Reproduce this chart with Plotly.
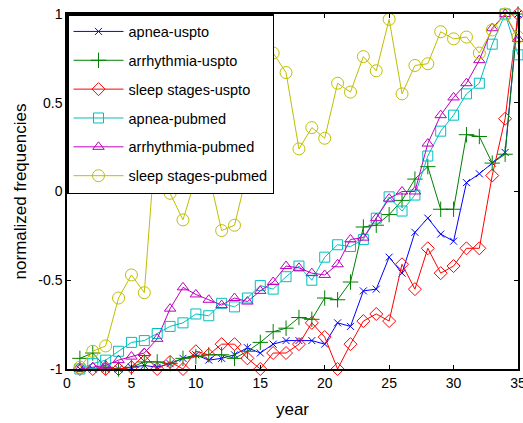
import plotly.graph_objects as go

years = list(range(1, 36))

apnea_uspto = [-1.0, -1.0, -1.0, -1.0, -0.99, -0.98, -0.99, -0.97, -0.94, -0.92,
               -0.95, -0.94, -0.92, -0.88, -0.91, -0.86, -0.84, -0.84, -0.84, -0.86,
               -0.74, -0.76, -0.56, -0.55, -0.37, -0.46, -0.23, -0.15, -0.24, -0.28,
               0.05, 0.10, 0.16, 0.22, 1.0]
arrhythmia_uspto = [-0.94, -0.91, -0.99, -1.0, -0.99, -0.96, -0.96, -0.97, -0.94, -0.93,
                    -0.92, -0.92, -0.94, -0.90, -0.85, -0.79, -0.77, -0.71, -0.72, -0.60,
                    -0.61, -0.51, -0.20, -0.19, -0.13, -0.05, 0.07, 0.14, -0.10, -0.10,
                    0.32, 0.31, 0.16, 0.21, 1.0]
sleep_uspto = [-1.0, -1.0, -1.0, -1.0, -0.99, -0.92, -1.0, -0.96, -1.0, -0.90,
               -0.92, -0.86, -0.86, -0.94, -1.0, -0.91, -0.91, -0.86, -0.74, -0.82,
               -1.0, -0.86, -0.73, -0.69, -0.73, -0.41, -0.55, -0.32, -0.46, -0.42,
               -0.32, -0.32, 0.09, 0.41, 1.0]
apnea_pubmed = [-1.0, -0.97, -0.95, -0.90, -0.85, -0.84, -0.80, -0.76, -0.74, -0.69,
                -0.70, -0.63, -0.65, -0.60, -0.53, -0.55, -0.48, -0.42, -0.50, -0.37,
                -0.30, -0.31, -0.27, -0.15, -0.03, -0.11, -0.02, 0.20, 0.34, 0.43,
                0.55, 0.61, 0.83, 1.0, 0.77]
arrhythmia_pubmed = [-1.0, -0.99, -0.98, -0.95, -0.93, -0.91, -0.83, -0.66, -0.54, -0.58,
                     -0.61, -0.64, -0.60, -0.62, -0.56, -0.51, -0.42, -0.43, -0.46, -0.47,
                     -0.41, -0.27, -0.26, -0.15, -0.04, 0.0, 0.0, 0.27, 0.43, 0.53,
                     0.61, 0.74, 0.92, 1.0, 0.86]
sleep_pubmed = [-0.99, -0.90, -0.87, -0.60, -0.47, -0.57, 0.40, -0.01, -0.16, 0.08,
                0.10, -0.22, -0.19, 0.11, 0.55, 0.78, 0.67, 0.24, 0.36, 0.30,
                0.61, 0.56, 0.76, 0.68, 0.97, 0.55, 0.71, 0.72, 0.90, 0.86,
                0.87, 0.78, 0.91, 1.0, 0.87]

series = [
    ("apnea-uspto", apnea_uspto, "#0000FF", "x-thin-open", 7),
    ("arrhythmia-uspto", arrhythmia_uspto, "#008000", "cross-thin-open", 11),
    ("sleep stages-uspto", sleep_uspto, "#FF0000", "diamond-open", 10),
    ("apnea-pubmed", apnea_pubmed, "#00BFBF", "square-open", 10),
    ("arrhythmia-pubmed", arrhythmia_pubmed, "#BF00BF", "triangle-up-open", 10),
    ("sleep stages-pubmed", sleep_pubmed, "#BFBF00", "circle-open", 12),
]

fig = go.Figure()
for name, vals, color, sym, size in series:
    fig.add_trace(go.Scatter(
        x=years, y=vals, name=name, mode="lines+markers",
        line=dict(color=color, width=1),
        marker=dict(symbol=sym, size=size, color=color, line=dict(color=color, width=1)),
        legendgroup=name, cliponaxis=False,
    ))

font = "Liberation Sans, Arial, sans-serif"
fig.update_layout(
    width=523, height=423,
    margin=dict(l=67, r=5, t=14, b=54),
    paper_bgcolor="white", plot_bgcolor="white",
    font=dict(family=font, size=14, color="black"),
    showlegend=True,
    legend=dict(
        x=0, y=1, xanchor="left", yanchor="top",
        bgcolor="white", bordercolor="black", borderwidth=1.5,
        font=dict(family=font, size=14.5, color="black"),
        tracegroupgap=7, itemwidth=50,
    ),
    xaxis=dict(
        range=[0, 35], tickvals=[0, 5, 10, 15, 20, 25, 30, 35],
        showgrid=False, zeroline=False, showline=True, linecolor="black", linewidth=1.5,
        mirror="ticks", ticks="inside", ticklen=4, tickcolor="black",
        automargin=False, ticklabeloverflow="allow",
        title=dict(text="year", standoff=14),
    ),
    yaxis=dict(
        range=[-1, 1], tickvals=[-1, -0.5, 0, 0.5, 1],
        ticktext=["-1", "-0.5", "0", "0.5", "1"],
        showgrid=False, zeroline=False, showline=True, linecolor="black", linewidth=1.5,
        mirror="ticks", ticks="inside", ticklen=4, tickcolor="black",
        automargin=False, ticklabeloverflow="allow",
        title=dict(text="normalized frequencies", standoff=7),
    ),
)

fig.write_html("out.html", config={"displayModeBar": False},
               post_script="document.body.style.margin='0';")
